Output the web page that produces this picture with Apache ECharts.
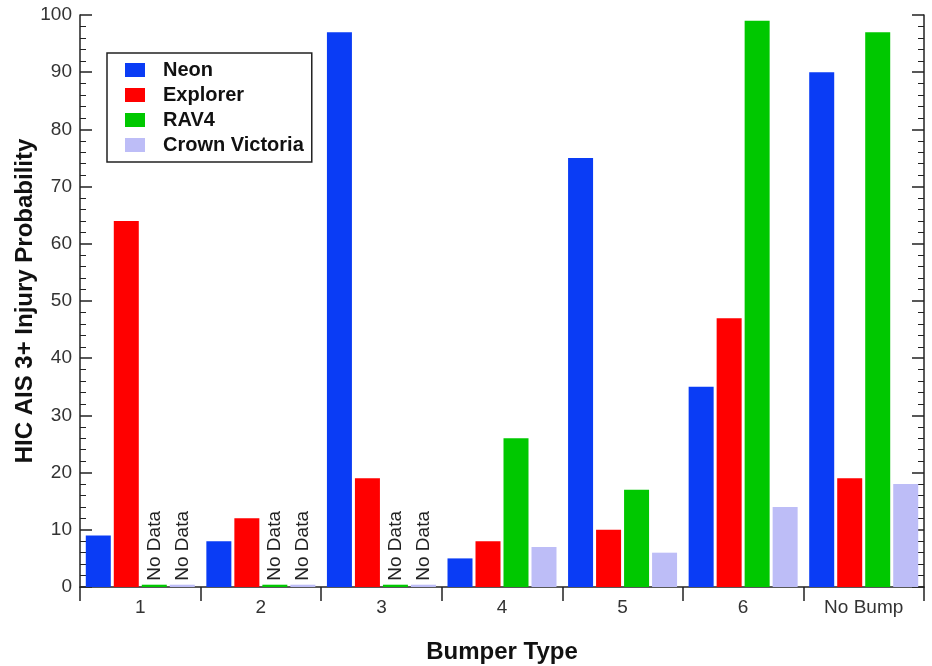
<!DOCTYPE html>
<html lang="en">
<head>
    <meta charset="UTF-8">
    <title>Bumper Type</title>
    <script src="https://cdn.jsdelivr.net/npm/echarts@6/dist/echarts.min.js"></script>
    <style>
        html, body { margin: 0; padding: 0; background: #fff; }
        #main { width: 932px; height: 666px; }
    </style>
</head>
<body>
<div id="main"></div>
<script>
    var categories = ['1', '2', '3', '4', '5', '6', 'No Bump'];
    // null = no data for that bumper
    var neon = [9, 8, 97, 5, 75, 35, 90];
    var explorer = [64, 12, 19, 8, 10, 47, 19];
    var rav4 = [null, null, null, 26, 17, 99, 97];
    var crownVictoria = [null, null, null, 7, 6, 14, 18];

    var font = '"Liberation Sans", Arial, sans-serif';

    function toData(arr) {
        return arr.map(function (v) {
            if (v === null) {
                return {
                    value: 0.4,
                    label: {
                        show: true, formatter: 'No Data', position: 'top',
                        rotate: 90, align: 'left', verticalAlign: 'middle',
                        distance: 4, fontFamily: font, fontSize: 19, color: '#222'
                    }
                };
            }
            return v;
        });
    }

    function bar(name, arr, color) {
        return {
            name: name, type: 'bar', data: toData(arr),
            barWidth: 25, barGap: '12%',
            itemStyle: { color: color }
        };
    }

    var tickStyle = { color: '#222', width: 1.5 };

    var myChart = echarts.init(document.getElementById('main'));
    var option = {
        animation: false,
        grid: { left: 80, right: 8, top: 15, bottom: 79, outerBoundsMode: 'none', containLabel: false },
        legend: {
            orient: 'vertical', left: 107, top: 53,
            padding: [7, 8, 7, 18], itemGap: 5,
            itemWidth: 20, itemHeight: 14, icon: 'rect',
            borderColor: '#222', borderWidth: 1.5,
            textStyle: { fontFamily: font, fontSize: 20, fontWeight: 'bold', color: '#111', padding: [0, 0, 0, 13] },
            data: ['Neon', 'Explorer', 'RAV4', 'Crown Victoria']
        },
        xAxis: {
            type: 'category', data: categories,
            name: 'Bumper Type', nameLocation: 'middle', nameGap: 53,
            nameTextStyle: { fontFamily: font, fontSize: 24, fontWeight: 'bold', color: '#111' },
            axisLine: { lineStyle: tickStyle },
            axisTick: { show: true, length: 14, lineStyle: tickStyle },
            axisLabel: { fontFamily: font, fontSize: 19, color: '#333', margin: 11 }
        },
        yAxis: [{
            type: 'value', min: 0, max: 100, interval: 10,
            name: 'HIC AIS 3+ Injury Probability', nameLocation: 'middle', nameGap: 43,
            nameMoveOverlap: false,
            nameTextStyle: { fontFamily: font, fontSize: 24, fontWeight: 'bold', color: '#111' },
            axisLine: { show: true, lineStyle: tickStyle },
            axisTick: { show: true, inside: true, length: 12, lineStyle: tickStyle },
            minorTick: { show: true, splitNumber: 5, length: 6, lineStyle: { color: '#222' } },
            axisLabel: { fontFamily: font, fontSize: 19, color: '#333', margin: 8 },
            splitLine: { show: false }
        }, {
            type: 'value', min: 0, max: 100, interval: 10, position: 'right',
            axisLine: { show: true, lineStyle: tickStyle },
            axisTick: { show: true, inside: true, length: 12, lineStyle: tickStyle },
            minorTick: { show: true, splitNumber: 5, length: 6, lineStyle: { color: '#222' } },
            axisLabel: { show: false },
            splitLine: { show: false }
        }],
        series: [
            bar('Neon', neon, '#0a3cf5'),
            bar('Explorer', explorer, '#ff0000'),
            bar('RAV4', rav4, '#00c800'),
            bar('Crown Victoria', crownVictoria, '#bdbdf7')
        ]
    };
    myChart.setOption(option);
</script>
</body>
</html>
